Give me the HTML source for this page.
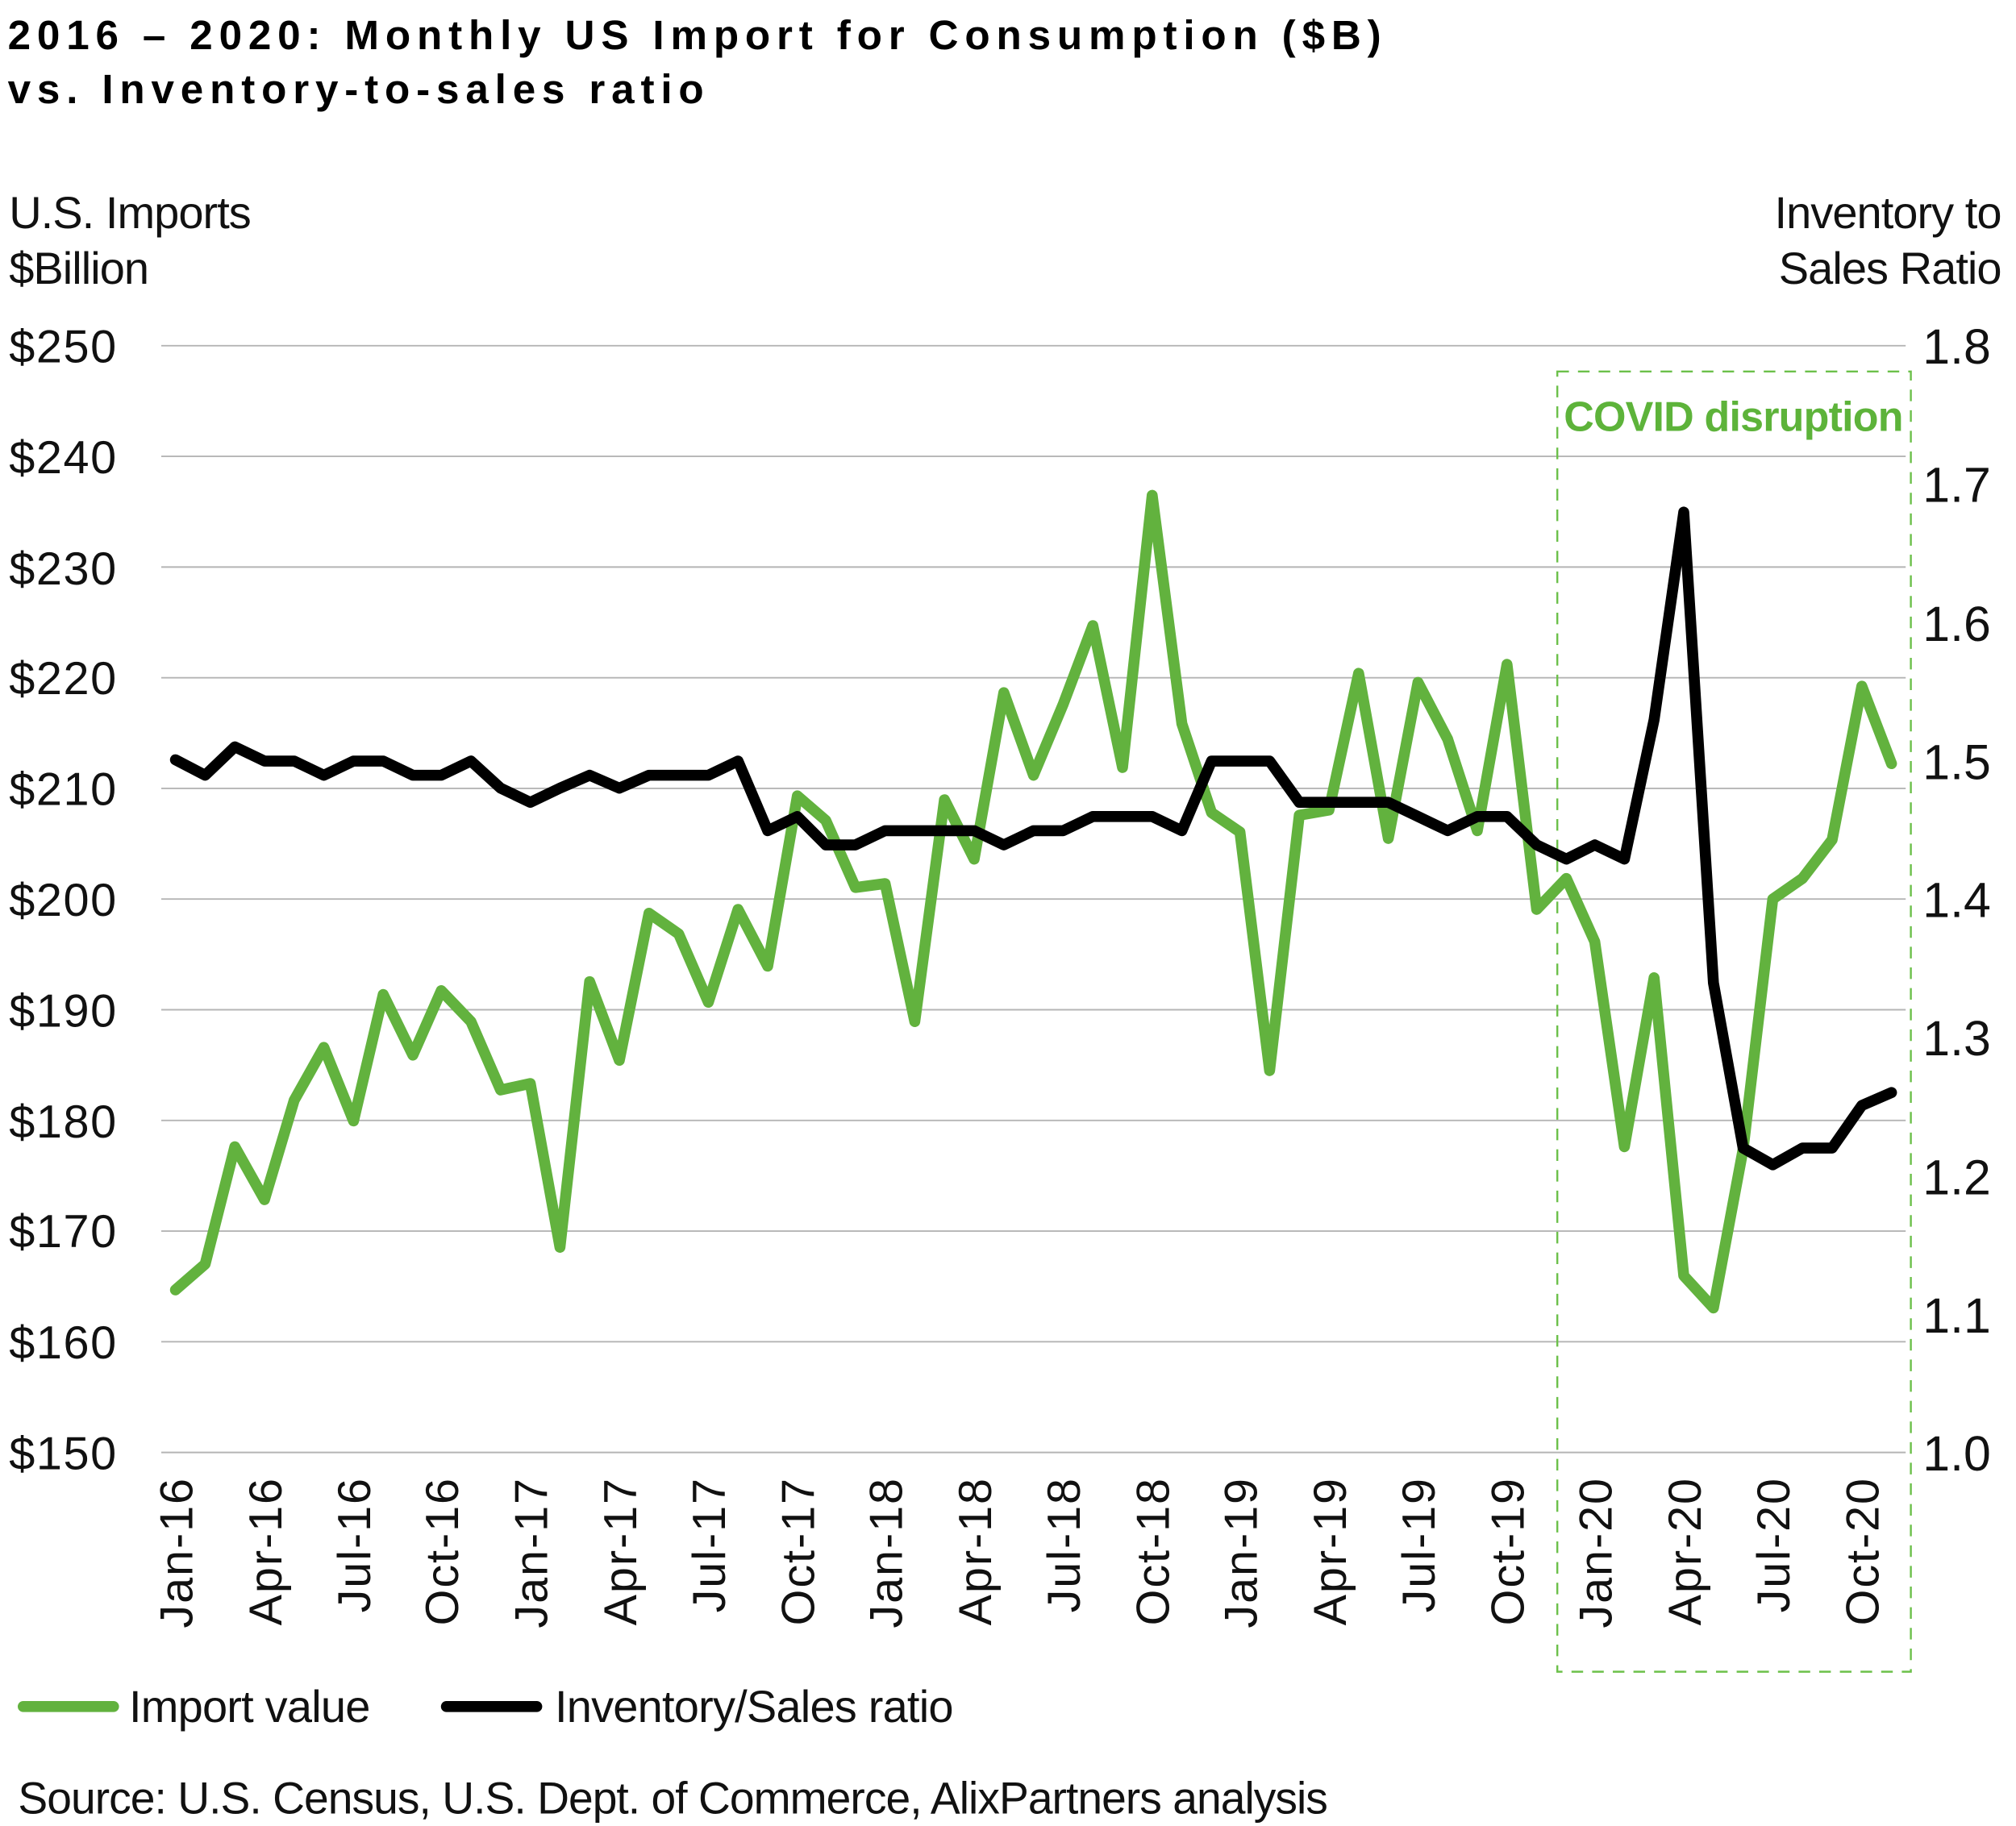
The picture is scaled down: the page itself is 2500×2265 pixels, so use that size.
<!DOCTYPE html>
<html><head><meta charset="utf-8"><style>
html,body{margin:0;padding:0;background:#fff;}
svg{display:block;}
text{font-family:"Liberation Sans",sans-serif;}
</style></head><body>
<svg width="2500" height="2265" viewBox="0 0 1562.5 1415.6" xmlns="http://www.w3.org/2000/svg">
<rect width="1562.5" height="1415.6" fill="#fff"/>
<text x="6" y="38" font-size="32" font-weight="bold" letter-spacing="4.9" fill="#000">2016 – 2020: Monthly US Import for Consumption ($B)</text>
<text x="6" y="80" font-size="32" font-weight="bold" letter-spacing="4.9" fill="#000">vs. Inventory-to-sales ratio</text>
<text x="7" y="177" font-size="35" fill="#111" letter-spacing="-0.6">U.S. Imports</text>
<text x="7" y="220" font-size="35" fill="#111" letter-spacing="-0.6">$Billion</text>
<text x="1551" y="177" font-size="35" fill="#111" text-anchor="end" letter-spacing="-0.6">Inventory to</text>
<text x="1551" y="220" font-size="35" fill="#111" text-anchor="end" letter-spacing="-0.6">Sales Ratio</text>
<g stroke="#b5b5b5" stroke-width="1.2">
<line x1="125" x2="1477" y1="268" y2="268"/><line x1="125" x2="1477" y1="353.8" y2="353.8"/>
<line x1="125" x2="1477" y1="439.6" y2="439.6"/><line x1="125" x2="1477" y1="525.4" y2="525.4"/>
<line x1="125" x2="1477" y1="611.2" y2="611.2"/><line x1="125" x2="1477" y1="697" y2="697"/>
<line x1="125" x2="1477" y1="782.8" y2="782.8"/><line x1="125" x2="1477" y1="868.6" y2="868.6"/>
<line x1="125" x2="1477" y1="954.4" y2="954.4"/><line x1="125" x2="1477" y1="1040.2" y2="1040.2"/>
<line x1="125" x2="1477" y1="1126" y2="1126"/>
</g>
<g font-size="36" fill="#111" letter-spacing="1">
<text x="7" y="281">$250</text><text x="7" y="367">$240</text><text x="7" y="453">$230</text>
<text x="7" y="538">$220</text><text x="7" y="624">$210</text><text x="7" y="710">$200</text>
<text x="7" y="796">$190</text><text x="7" y="882">$180</text><text x="7" y="967">$170</text>
<text x="7" y="1053">$160</text><text x="7" y="1139">$150</text>
</g>
<g font-size="38" fill="#111" text-anchor="end">
<text x="1543" y="282">1.8</text><text x="1543" y="389">1.7</text><text x="1543" y="497">1.6</text>
<text x="1543" y="604">1.5</text><text x="1543" y="711">1.4</text><text x="1543" y="818">1.3</text>
<text x="1543" y="926">1.2</text><text x="1543" y="1033">1.1</text><text x="1543" y="1140">1.0</text>
</g>
<g font-size="36" fill="#111" text-anchor="end" letter-spacing="1.2">
<text transform="translate(149,1145) rotate(-90)">Jan-16</text>
<text transform="translate(218,1145) rotate(-90)">Apr-16</text>
<text transform="translate(287,1145) rotate(-90)">Jul-16</text>
<text transform="translate(355,1145) rotate(-90)">Oct-16</text>
<text transform="translate(424,1145) rotate(-90)">Jan-17</text>
<text transform="translate(493,1145) rotate(-90)">Apr-17</text>
<text transform="translate(562,1145) rotate(-90)">Jul-17</text>
<text transform="translate(631,1145) rotate(-90)">Oct-17</text>
<text transform="translate(699,1145) rotate(-90)">Jan-18</text>
<text transform="translate(768,1145) rotate(-90)">Apr-18</text>
<text transform="translate(837,1145) rotate(-90)">Jul-18</text>
<text transform="translate(906,1145) rotate(-90)">Oct-18</text>
<text transform="translate(974,1145) rotate(-90)">Jan-19</text>
<text transform="translate(1043,1145) rotate(-90)">Apr-19</text>
<text transform="translate(1112,1145) rotate(-90)">Jul-19</text>
<text transform="translate(1181,1145) rotate(-90)">Oct-19</text>
<text transform="translate(1249,1145) rotate(-90)">Jan-20</text>
<text transform="translate(1318,1145) rotate(-90)">Apr-20</text>
<text transform="translate(1387,1145) rotate(-90)">Jul-20</text>
<text transform="translate(1456,1145) rotate(-90)">Oct-20</text>
</g>
<rect x="1207" y="288" width="274" height="1008" fill="none" stroke="#6cc04a" stroke-width="1.5" stroke-dasharray="9,7"/>
<text x="1212" y="334" font-size="32.5" font-weight="bold" fill="#5db33a" letter-spacing="-0.5">COVID disruption</text>
<polyline fill="none" stroke="#62b23e" stroke-width="8.5" stroke-linejoin="round" stroke-linecap="round" points="136,1000 159,980 182,889 205,930 228,853 251,812 274,869 297,771 320,818 342,768 365,792 388,845 411,840 434,967 457,761 480,822 503,708 526,724 549,777 572,705 595,749 618,617 640,636 663,688 686,685 709,792 732,620 755,666 778,537 801,601 824,546 847,485 870,595 893,384 916,561 939,630 961,645 984,830 1007,632 1030,628 1053,522 1076,650 1099,529 1122,573 1145,644 1168,515 1191,705 1214,681 1236,730 1259,889 1282,758 1305,989 1328,1014 1351,891 1374,697 1397,681 1420,651 1443,532 1466,592"/>
<polyline fill="none" stroke="#000" stroke-width="8.5" stroke-linejoin="round" stroke-linecap="round" points="136,589 159,601 182,579 205,590 228,590 251,601 274,590 297,590 320,601 342,601 365,590 388,611 411,622 434,611 457,601 480,611 503,601 526,601 549,601 572,590 595,644 618,633 640,655 663,655 686,644 709,644 732,644 755,644 778,655 801,644 824,644 847,633 870,633 893,633 916,644 939,590 961,590 984,590 1007,622 1030,622 1053,622 1076,622 1099,633 1122,644 1145,633 1168,633 1191,655 1214,666 1236,655 1259,666 1282,558 1305,397 1328,762 1351,890 1374,903 1397,890 1420,890 1443,857 1466,847"/>
<line x1="18" x2="88" y1="1323" y2="1323" stroke="#62b23e" stroke-width="8.5" stroke-linecap="round"/>
<text x="100" y="1335" font-size="35" fill="#111" letter-spacing="-0.5">Import value</text>
<line x1="346" x2="416" y1="1323" y2="1323" stroke="#000" stroke-width="8.5" stroke-linecap="round"/>
<text x="430" y="1335" font-size="35" fill="#111" letter-spacing="-0.5">Inventory/Sales ratio</text>
<text x="14" y="1406" font-size="34.5" fill="#111" letter-spacing="-0.6">Source:  U.S. Census, U.S. Dept. of Commerce, AlixPartners analysis</text>
</svg>
</body></html>
